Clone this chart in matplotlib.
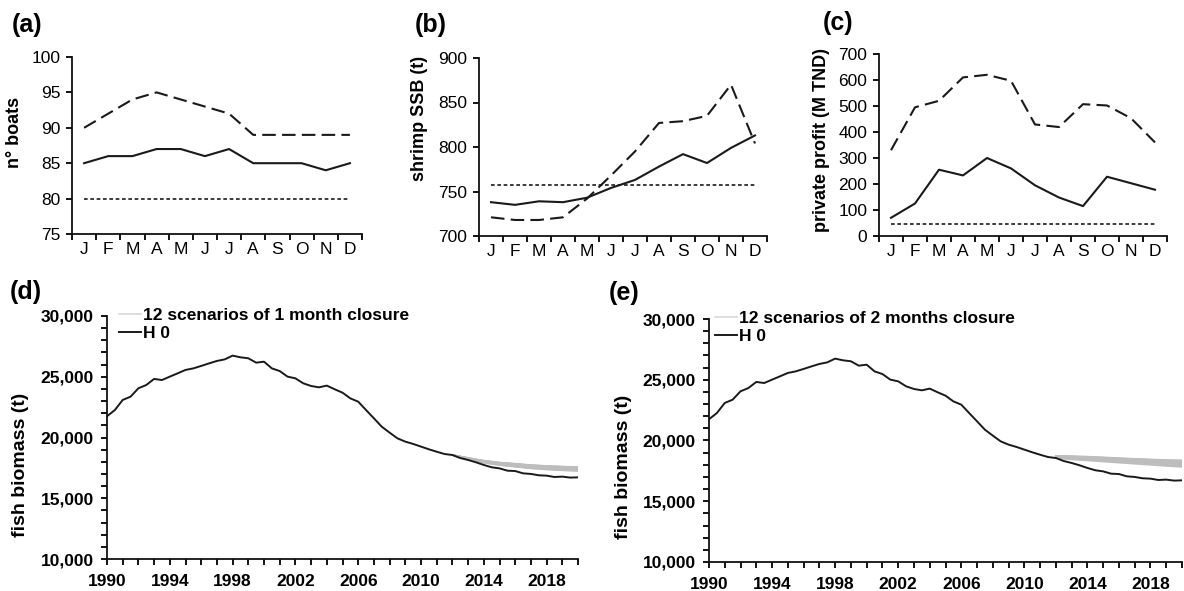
import numpy as np
import matplotlib
matplotlib.use("Agg")
import matplotlib.pyplot as plt
from matplotlib.ticker import MultipleLocator, FuncFormatter, FixedLocator

plt.rcParams['font.family'] = ['Liberation Sans', 'DejaVu Sans']

# ---------------- data ----------------
months = ['J', 'F', 'M', 'A', 'M', 'J', 'J', 'A', 'S', 'O', 'N', 'D']

boats_solid = [85, 86, 86, 87, 87, 86, 87, 85, 85, 85, 84, 85]
boats_dashed = [90, 92, 94, 95, 94, 93, 92, 89, 89, 89, 89, 89]
boats_dotted = [80] * 12

ssb_solid = [738, 735, 739, 738, 743, 754, 763, 778, 792, 782, 799, 813]
ssb_dashed = [721, 718, 718, 721, 742, 768, 795, 827, 829, 835, 870, 804]
ssb_dotted = [757] * 12

profit_solid = [70, 125, 255, 233, 300, 260, 195, 148, 115, 228, 203, 178]
profit_dashed = [330, 495, 520, 610, 620, 597, 429, 419, 507, 502, 453, 360]
profit_dotted = [48] * 12

h0_years = np.arange(1990, 2020.01, 0.5)
h0_biomass = [21750, 22260, 23090, 23360, 24050, 24320, 24820, 24730, 25010, 25280,
              25560, 25690, 25890, 26100, 26300, 26430, 26740, 26600, 26520, 26160,
              26240, 25690, 25470, 25010, 24870, 24460, 24240, 24130, 24270, 23970,
              23690, 23220, 22950, 22260, 21580, 20890, 20400, 19930, 19660, 19470,
              19250, 19030, 18830, 18640, 18560, 18310, 18150, 17960, 17740, 17550,
              17460, 17270, 17240, 17050, 17000, 16890, 16860, 16750, 16780, 16700,
              16720]

scen_years = np.arange(2012, 2020.01, 1.0)
scen_1month = [
    [18560, 18250, 17980, 17800, 17680, 17560, 17480, 17420, 17380],
    [18560, 18280, 18030, 17860, 17740, 17620, 17540, 17480, 17450],
    [18560, 18300, 18070, 17900, 17800, 17690, 17610, 17560, 17520],
    [18560, 18330, 18100, 17950, 17850, 17740, 17670, 17610, 17580],
    [18560, 18220, 17950, 17760, 17630, 17500, 17410, 17340, 17300],
    [18560, 18200, 17920, 17720, 17590, 17450, 17360, 17290, 17240],
    [18560, 18260, 18000, 17830, 17710, 17600, 17520, 17450, 17420],
    [18560, 18310, 18080, 17920, 17820, 17710, 17640, 17590, 17550],
    [18560, 18240, 17970, 17780, 17660, 17530, 17450, 17380, 17340],
    [18560, 18290, 18050, 17880, 17770, 17660, 17580, 17520, 17490],
    [18560, 18210, 17940, 17740, 17610, 17480, 17390, 17320, 17270],
    [18560, 18320, 18090, 17930, 17830, 17720, 17650, 17600, 17560],
]
scen_2months = [
    [18700, 18650, 18600, 18520, 18480, 18400, 18350, 18300, 18250],
    [18650, 18580, 18520, 18450, 18380, 18300, 18230, 18170, 18120],
    [18750, 18720, 18680, 18620, 18560, 18500, 18450, 18400, 18380],
    [18600, 18520, 18450, 18380, 18300, 18220, 18150, 18080, 18020],
    [18680, 18640, 18580, 18540, 18470, 18430, 18380, 18320, 18290],
    [18620, 18550, 18480, 18420, 18340, 18260, 18190, 18120, 18060],
    [18720, 18700, 18650, 18600, 18530, 18480, 18420, 18360, 18330],
    [18580, 18480, 18400, 18320, 18240, 18150, 18060, 17980, 17900],
    [18660, 18600, 18560, 18480, 18420, 18350, 18290, 18230, 18180],
    [18560, 18440, 18350, 18260, 18170, 18080, 17990, 17900, 17820],
    [18700, 18670, 18620, 18570, 18500, 18450, 18400, 18350, 18310],
    [18600, 18500, 18420, 18340, 18260, 18180, 18100, 18020, 17950],
]

# ---------------- figure ----------------
W, H = 1184, 591
fig = plt.figure(figsize=(W / 100, H / 100), dpi=100)


def px_axes(x0, x1, ytop, ybot):
    return fig.add_axes([x0 / W, 1 - ybot / H, (x1 - x0) / W, (ybot - ytop) / H])


LINE = '#1a1a1a'
TICK_FS = 12.5


def style_common(ax):
    for s in ['top', 'right']:
        ax.spines[s].set_visible(False)
    for s in ['left', 'bottom']:
        ax.spines[s].set_linewidth(1.3)
        ax.spines[s].set_color('#111111')


def month_panel(ax, solid, dashed, dotted, ylim, ystep, ylabel, lab_x, lab_y):
    x = np.arange(12)
    ax.plot(x, dashed, color=LINE, lw=1.5, linestyle=(0, (6.5, 3)))
    ax.plot(x, solid, color=LINE, lw=1.5)
    ax.plot(x, dotted, color=LINE, lw=1.2, linestyle=(0, (2.2, 1.6)))
    ax.set_xlim(-0.5, 11.5)
    ax.set_ylim(*ylim)
    ax.yaxis.set_major_locator(MultipleLocator(ystep))
    ax.xaxis.set_major_locator(FixedLocator(np.arange(-0.5, 12, 1.0)))
    ax.xaxis.set_major_formatter(FuncFormatter(lambda v, p: ''))
    ax.set_xticks(x, minor=True)
    ax.set_xticklabels(months, minor=True)
    ax.tick_params(axis='x', which='major', length=4, width=1.3, direction='out')
    ax.tick_params(axis='x', which='minor', length=0, pad=5.5, labelsize=TICK_FS)
    ax.tick_params(axis='y', which='major', length=4, width=1.3, direction='out',
                   labelsize=TICK_FS, pad=4.5)
    ax.set_ylabel(ylabel, fontsize=13, fontweight='bold')
    ax.yaxis.set_label_coords(lab_x, lab_y)
    style_common(ax)


ax_a = px_axes(72, 362, 57, 234)
month_panel(ax_a, boats_solid, boats_dashed, boats_dotted, (75, 100), 5, 'n° boats',
            -0.168, 0.576)
ax_b = px_axes(479, 767, 58, 236)
month_panel(ax_b, ssb_solid, ssb_dashed, ssb_dotted, (700, 900), 50, 'shrimp SSB (t)',
            -0.177, 0.663)
ax_c = px_axes(879, 1167, 54, 236)
month_panel(ax_c, profit_solid, profit_dashed, profit_dotted, (0, 700), 100,
            'private profit (M TND)', -0.170, 0.527)


def biomass_panel(ax, scen, legend_label, lab_x, lab_y, leg_x):
    for i, s in enumerate(scen):
        ax.plot(scen_years, s, color='#bdbdbd', lw=1.1,
                label=legend_label if i == 0 else None)
    ax.plot(h0_years, h0_biomass, color=LINE, lw=1.4, label='H 0')
    ax.set_xlim(1990, 2020)
    ax.set_ylim(10000, 30000)
    ax.xaxis.set_major_locator(FixedLocator(np.arange(1990, 2019, 4)))
    ax.xaxis.set_minor_locator(FixedLocator(np.arange(1990, 2021, 1)))
    ax.yaxis.set_major_locator(MultipleLocator(5000))
    ax.yaxis.set_minor_locator(MultipleLocator(1000))
    ax.yaxis.set_major_formatter(FuncFormatter(lambda v, p: f'{int(v):,}'))
    ax.tick_params(axis='both', which='both', length=4, width=1.3, direction='out')
    ax.tick_params(axis='both', which='major', labelsize=12.5)
    ax.tick_params(axis='x', which='major', pad=6.5)
    ax.tick_params(axis='y', which='major', pad=5.5)
    for lbl in ax.get_xticklabels() + ax.get_yticklabels():
        lbl.set_fontweight('bold')
    ax.set_ylabel('fish biomass (t)', fontsize=14, fontweight='bold')
    ax.yaxis.set_label_coords(lab_x, lab_y)
    leg = ax.legend(loc='upper left', bbox_to_anchor=(leg_x, 1.04), frameon=False,
                    handlelength=1.3, handletextpad=0.1,
                    labelspacing=0.16, borderpad=0.1, borderaxespad=0.0,
                    prop={'weight': 'bold', 'size': 12.5})
    leg.get_lines()[0].set_color('#d4d4d4')
    style_common(ax)


ax_d = px_axes(107, 578, 316, 559)
biomass_panel(ax_d, scen_1month, '12 scenarios of 1 month closure', -0.166, 0.387, 0.021)
ax_e = px_axes(709, 1182, 319, 562)
biomass_panel(ax_e, scen_2months, '12 scenarios of 2 months closure', -0.163, 0.39, 0.008)

for txt, x, y in [('(a)', 12, 25), ('(b)', 415, 25), ('(c)', 823, 23),
                  ('(d)', 10, 292), ('(e)', 609, 293)]:
    fig.text(x / W, 1 - y / H, txt, fontsize=18, fontweight='bold', ha='left', va='center')

fig.savefig('out.png', dpi=100)
